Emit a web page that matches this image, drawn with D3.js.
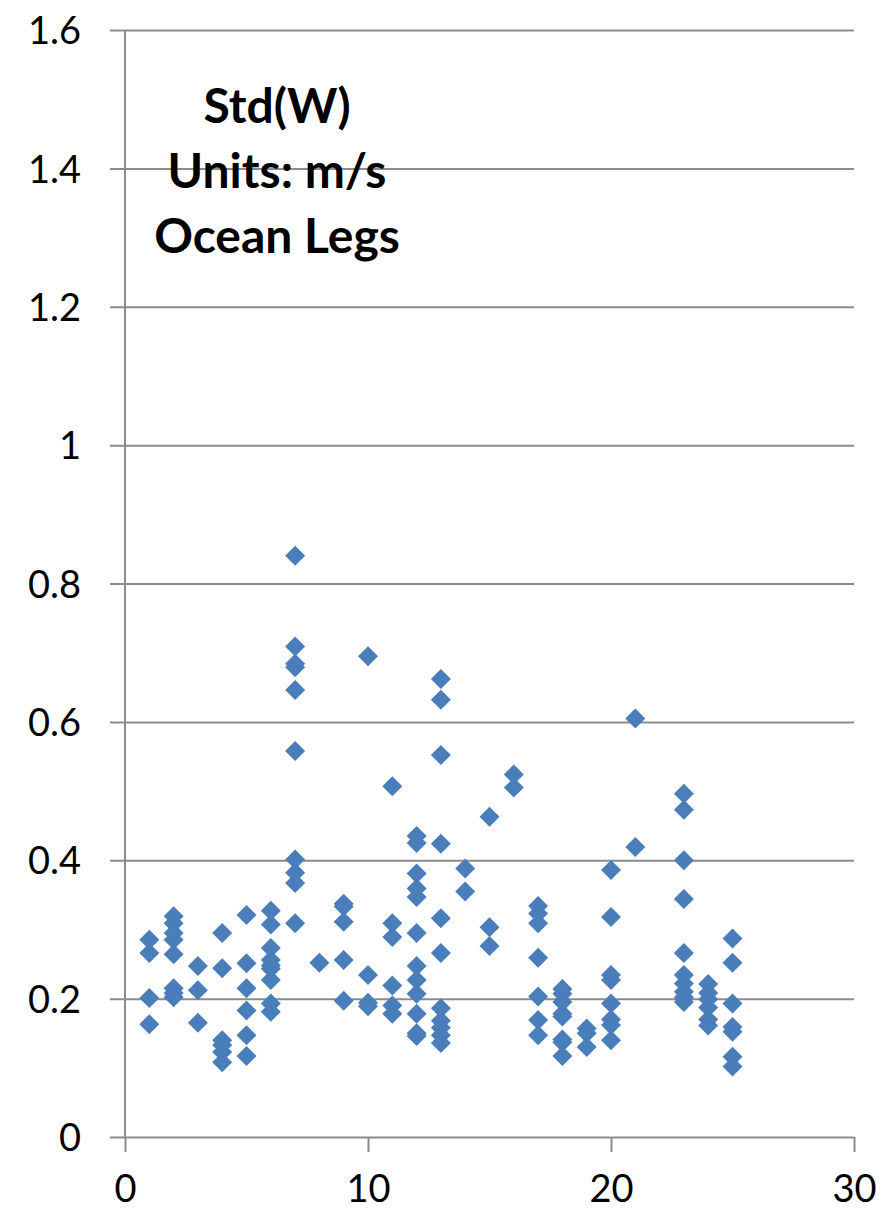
<!DOCTYPE html>
<html>
<head>
<meta charset="utf-8">
<script src="https://cdn.jsdelivr.net/npm/d3@7"></script>
<style>
  html, body { margin: 0; padding: 0; background: #ffffff; }
  svg { display: block; }
  text { font-family: Lato, "Open Sans", "DejaVu Sans", sans-serif; }
</style>
</head>
<body>
<svg id="chart" width="885" height="1221"></svg>
<script>
// Leg number of each column of points
const legs = [1, 2, 3, 4, 5, 6, 7, 8, 9, 10, 11, 12, 13, 14, 15, 16, 17, 18, 19, 20, 21, 23, 24, 25];

// Std(W) values (m/s) measured on each leg, same order as `legs`
const stdW = [
  [0.285, 0.266, 0.201, 0.163],
  [0.319, 0.309, 0.295, 0.285, 0.264, 0.215, 0.208, 0.202],
  [0.247, 0.212, 0.165],
  [0.295, 0.244, 0.140, 0.133, 0.123, 0.108],
  [0.321, 0.251, 0.215, 0.183, 0.147, 0.117],
  [0.327, 0.307, 0.273, 0.256, 0.248, 0.243, 0.227, 0.193, 0.181],
  [0.840, 0.709, 0.684, 0.679, 0.646, 0.558, 0.401, 0.382, 0.367, 0.309],
  [0.252],
  [0.337, 0.333, 0.311, 0.256, 0.197],
  [0.695, 0.234, 0.194, 0.189],
  [0.507, 0.309, 0.289, 0.219, 0.190, 0.178],
  [0.435, 0.425, 0.381, 0.359, 0.347, 0.295, 0.247, 0.227, 0.207, 0.178, 0.150, 0.146],
  [0.662, 0.632, 0.552, 0.424, 0.316, 0.266, 0.186, 0.168, 0.158, 0.147, 0.136],
  [0.388, 0.355],
  [0.463, 0.303, 0.276],
  [0.524, 0.505],
  [0.334, 0.323, 0.309, 0.259, 0.203, 0.169, 0.147],
  [0.214, 0.207, 0.195, 0.178, 0.174, 0.141, 0.137, 0.117],
  [0.157, 0.150, 0.130],
  [0.386, 0.318, 0.234, 0.227, 0.193, 0.170, 0.162, 0.140],
  [0.605, 0.419],
  [0.496, 0.473, 0.400, 0.344, 0.266, 0.234, 0.222, 0.210, 0.202, 0.195],
  [0.221, 0.208, 0.199, 0.187, 0.170, 0.161],
  [0.287, 0.252, 0.193, 0.159, 0.152, 0.116, 0.102]
];

// Axis tick values
const xTicks = [0, 10, 20, 30];
const yTicks = [0, 0.2, 0.4, 0.6, 0.8, 1, 1.2, 1.4, 1.6];

// Title lines
const titleLines = ["Std(W)", "Units: m/s", "Ocean Legs"];

const points = legs.flatMap((leg, i) => stdW[i].map(v => ({ leg, v })));

const svg = d3.select("#chart");
const plot = { left: 125, right: 854, top: 30, bottom: 1137 };

const x = d3.scaleLinear().domain([0, 30]).range([plot.left, plot.right]);
const y = d3.scaleLinear().domain([0, 1.6]).range([plot.bottom, plot.top]);

const gridColor = "#8c8c8c";

// Horizontal gridlines, extending left of the axis as tick marks
const yAxis = d3.axisLeft(y)
  .tickValues(yTicks)
  .tickSize(-(plot.right - plot.left))
  .tickPadding(45)
  .tickFormat(d => String(d));

const gy = svg.append("g")
  .attr("transform", `translate(${plot.left},0)`)
  .call(yAxis);
gy.select(".domain").remove();
gy.selectAll(".tick line")
  .attr("x1", -15)
  .attr("stroke", gridColor)
  .attr("stroke-width", 2);
gy.selectAll(".tick text")
  .attr("fill", "#000")
  .attr("font-size", 38)
  .attr("x", -44)
  .attr("dy", "0.36em");

// X axis with downward ticks
const xAxis = d3.axisBottom(x)
  .tickValues(xTicks)
  .tickSize(15)
  .tickPadding(21)
  .tickFormat(d => String(d));

const gx = svg.append("g")
  .attr("transform", `translate(0,${plot.bottom})`)
  .call(xAxis);
gx.select(".domain").remove();
gx.selectAll(".tick line")
  .attr("stroke", gridColor)
  .attr("stroke-width", 2);
gx.selectAll(".tick text")
  .attr("fill", "#000")
  .attr("font-size", 38)
  .attr("dy", "0.75em");

// Vertical value axis line
svg.append("line")
  .attr("x1", x(0)).attr("x2", x(0))
  .attr("y1", y(1.6)).attr("y2", y(0))
  .attr("stroke", gridColor)
  .attr("stroke-width", 2);

// Diamond markers
const diamond = d3.symbol().type(d3.symbolSquare).size(200);
svg.append("g")
  .selectAll("path")
  .data(points)
  .join("path")
  .attr("d", diamond)
  .attr("transform", d => `translate(${x(d.leg)},${y(d.v)}) rotate(45)`)
  .attr("fill", "#4a7ebb");

// Title block
svg.append("g")
  .selectAll("text")
  .data(titleLines)
  .join("text")
  .attr("x", 277)
  .attr("y", (d, i) => 123 + i * 65)
  .attr("text-anchor", "middle")
  .attr("font-size", 48)
  .attr("font-weight", "bold")
  .attr("fill", "#000")
  .text(d => d);
</script>
</body>
</html>
